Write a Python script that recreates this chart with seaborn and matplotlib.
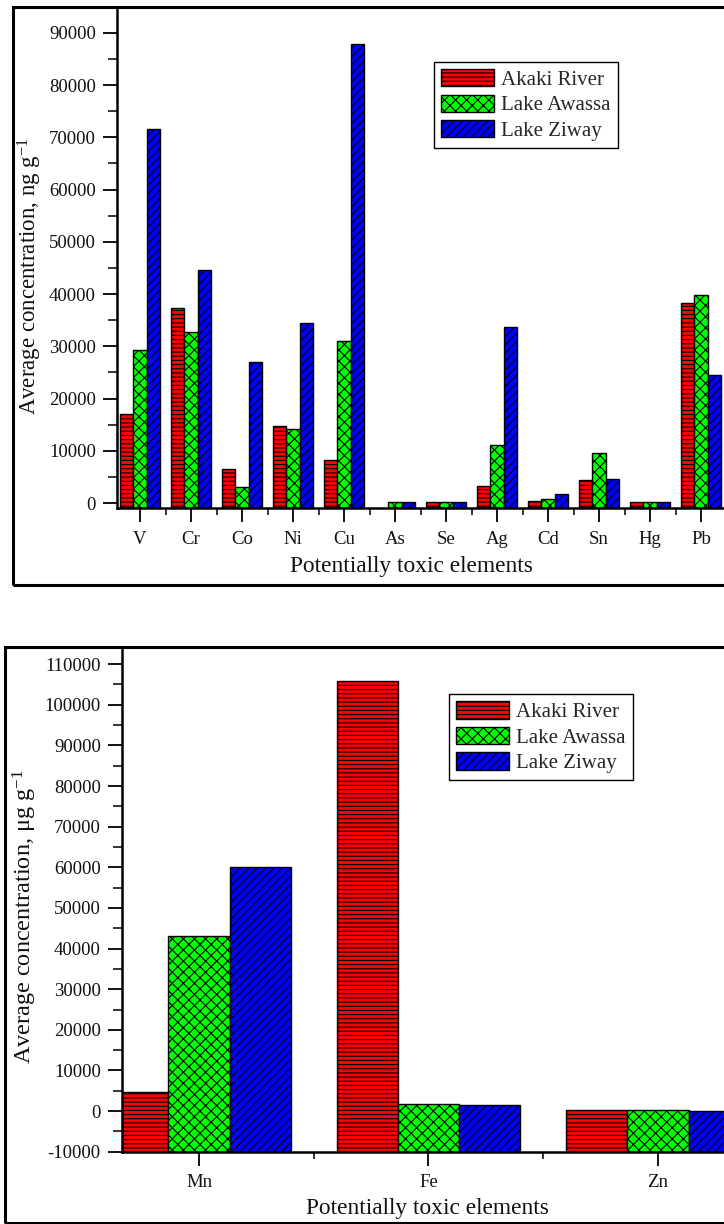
import numpy as np
import pandas as pd
import matplotlib
matplotlib.use('Agg')
import matplotlib.pyplot as plt
import matplotlib.patches as mpatches
from matplotlib.ticker import MultipleLocator, FixedLocator
import seaborn as sns

# data
sites = ['Akaki River', 'Lake Awassa', 'Lake Ziway']
colors = ['#ff0000', '#00ff00', '#0000ff']
hatches = ['----', 'xxx', '////']

trace_elements = ['V', 'Cr', 'Co', 'Ni', 'Cu', 'As', 'Se', 'Ag', 'Cd', 'Sn', 'Hg', 'Pb']
akaki_trace = [17000, 37300, 6500, 14800, 8300, np.nan, 200, 3300, 450, 4400, 200, 38200]
awassa_trace = [29300, 32700, 3100, 14200, 31100, 200, 200, 11200, 760, 9600, 200, 39900]
ziway_trace = [71500, 44700, 27000, 34400, 87800, 200, 200, 33700, 1780, 4650, 200, 24500]

major_elements = ['Mn', 'Fe', 'Zn']
akaki_major = [4700, 105800, 250]
awassa_major = [43000, 1800, 200]
ziway_major = [60000, 1600, 100]


def long_table(elements, *series):
    rows = []
    for site, vals in zip(sites, series):
        for el, v in zip(elements, vals):
            rows.append({'element': el, 'site': site, 'value': v})
    return pd.DataFrame(rows)


sns.set_theme(style='ticks')
plt.rcParams['font.family'] = ['Liberation Serif', 'DejaVu Serif']
plt.rcParams['mathtext.fontset'] = 'custom'
plt.rcParams['mathtext.rm'] = 'Liberation Serif'
plt.rcParams['mathtext.it'] = 'Liberation Serif:italic'
plt.rcParams['axes.unicode_minus'] = False
plt.rcParams['hatch.linewidth'] = 0.8
plt.rcParams['hatch.color'] = 'black'

fig = plt.figure(figsize=(7.24, 12.24), dpi=100)
W, H = 724, 1224


def px_axes(left, top, bottom, right=724):
    return fig.add_axes([left / W, 1 - bottom / H, (right - left) / W, (bottom - top) / H])


def draw_panel(ax, df, elements, base, ylim, xlim, ylabel, ylab_size, ylab_xy, xlab_xy, leg_xy):
    sns.barplot(data=df, x='element', y='value', hue='site', hue_order=sites,
                order=elements, palette=colors, saturation=1, errorbar=None,
                edgecolor='black', linewidth=1.0, legend=False, ax=ax)
    # bars start at the bottom of the axis, as in the original
    for cont, h in zip(ax.containers, hatches):
        for bar in cont:
            bar.set_hatch(h)
            top = bar.get_height()
            if np.isnan(top):
                continue
            bar.set_y(base)
            bar.set_height(top - base)
    ax.set_ylim(*ylim)
    ax.set_xlim(*xlim)
    ax.yaxis.set_major_locator(MultipleLocator(10000))
    ax.yaxis.set_minor_locator(MultipleLocator(5000))
    ax.xaxis.set_minor_locator(FixedLocator(np.arange(len(elements)) + 0.5))
    ax.tick_params(axis='both', which='major', length=10, width=1.3, labelsize=13.5,
                   direction='out', pad=5, color='black', labelcolor='#111111')
    ax.tick_params(axis='x', which='major', pad=6)
    ax.tick_params(axis='both', which='minor', length=5, width=1.3, direction='out')
    ax.tick_params(axis='y', which='minor', length=6.5)
    for side in ['top', 'right']:
        ax.spines[side].set_visible(False)
    for side in ['left', 'bottom']:
        ax.spines[side].set_linewidth(1.8)
        ax.spines[side].set_color('black')
    ax.set_xlabel('Potentially toxic elements', fontsize=16.8, color='#111111')
    ax.set_ylabel(ylabel, fontsize=ylab_size, color='#111111')
    ax.xaxis.set_label_coords(*xlab_xy)
    ax.yaxis.set_label_coords(*ylab_xy)
    leg = ax.legend(handles=ax.containers, labels=sites, loc='upper left',
                    bbox_to_anchor=leg_xy, borderaxespad=0, fontsize=15,
                    frameon=True, fancybox=False, framealpha=1, edgecolor='black',
                    handlelength=2.55, handleheight=0.9, handletextpad=0.35,
                    labelspacing=0.22, borderpad=0.35)
    leg.get_frame().set_linewidth(1.0)


# top panel: trace elements (ng/g)
ax1 = px_axes(116.7, 6.7, 508.3)
df1 = long_table(trace_elements, akaki_trace, awassa_trace, ziway_trace)
draw_panel(ax1, df1, trace_elements, base=-1000, ylim=(-1000, 95000),
           xlim=(-0.457, 11.45), ylabel='Average concentration, ng g$^{-1}$',
           ylab_size=16.5, ylab_xy=(-0.12, 0.463), xlab_xy=(0.485, -0.095),
           leg_xy=(0.522, 0.89))

# bottom panel: major elements (ug/g)
ax2 = px_axes(121.7, 646.7, 1151.7)
df2 = long_table(major_elements, akaki_major, awassa_major, ziway_major)
draw_panel(ax2, df2, major_elements, base=-10000, ylim=(-10000, 114300),
           xlim=(-0.337, 2.288), ylabel='Average concentration, \u03bcg g$^{-1}$',
           ylab_size=17.5, ylab_xy=(-0.138, 0.465), xlab_xy=(0.508, -0.092),
           leg_xy=(0.543, 0.906))

# outer frames around each panel
for left, top, bottom in [(13, 6.7, 585), (5, 646.7, 1223)]:
    fig.patches.append(mpatches.Rectangle((left / W, 1 - bottom / H),
                                          (W + 20 - left) / W, (bottom - top) / H,
                                          transform=fig.transFigure, fill=False,
                                          edgecolor='black', linewidth=2.2, zorder=10))

fig.savefig('out.png', dpi=100)
